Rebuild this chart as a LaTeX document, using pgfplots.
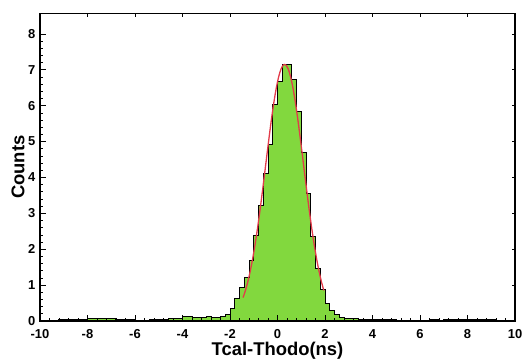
\documentclass[border=0pt]{standalone}
\usepackage{fontspec}
\setmainfont{Liberation Sans}
\usepackage{pgfplots}
\pgfplotsset{compat=1.18}
\usepackage{pgfplotstable}
\definecolor{hgreen}{RGB}{130,216,62}
\definecolor{fitred}{RGB}{226,60,74}

% histogram, 0.2 ns bins, x = left edge of bin
\pgfplotstableread{
x y
-10.0 0.00
-9.8 0.02
-9.6 0.02
-9.4 0.02
-9.2 0.03
-9.0 0.03
-8.8 0.03
-8.6 0.04
-8.4 0.04
-8.2 0.05
-8.0 0.07
-7.8 0.07
-7.6 0.08
-7.4 0.08
-7.2 0.07
-7.0 0.06
-6.8 0.05
-6.6 0.04
-6.4 0.03
-6.2 0.03
-6.0 0.02
-5.8 0.02
-5.6 0.02
-5.4 0.03
-5.2 0.04
-5.0 0.05
-4.8 0.05
-4.6 0.06
-4.4 0.07
-4.2 0.08
-4.0 0.12
-3.8 0.12
-3.6 0.11
-3.4 0.10
-3.2 0.11
-3.0 0.12
-2.8 0.11
-2.6 0.11
-2.4 0.12
-2.2 0.17
-2.0 0.36
-1.8 0.63
-1.6 0.94
-1.4 1.22
-1.2 1.68
-1.0 2.39
-0.8 3.22
-0.6 4.11
-0.4 4.91
-0.2 6.03
0.0 6.68
0.2 7.14
0.4 7.16
0.6 6.74
0.8 5.83
1.0 4.69
1.2 3.56
1.4 2.36
1.6 1.45
1.8 0.88
2.0 0.50
2.2 0.28
2.4 0.17
2.6 0.10
2.8 0.07
3.0 0.06
3.2 0.06
3.4 0.05
3.6 0.05
3.8 0.05
4.0 0.04
4.2 0.04
4.4 0.04
4.6 0.03
4.8 0.03
5.0 0.02
5.2 0.02
5.4 0.02
5.6 0.01
5.8 0.01
6.0 0.02
6.2 0.02
6.4 0.03
6.6 0.03
6.8 0.02
7.0 0.03
7.2 0.04
7.4 0.03
7.6 0.04
7.8 0.05
8.0 0.04
8.2 0.05
8.4 0.04
8.6 0.05
8.8 0.04
9.0 0.03
9.2 0.02
9.4 0.02
9.6 0.02
9.8 0.01
10.0 0.01
}\histdata

% gaussian fit
\pgfplotstableread{
x y
-1.45 0.653
-1.35 0.852
-1.25 1.094
-1.15 1.383
-1.05 1.722
-0.95 2.109
-0.85 2.545
-0.75 3.022
-0.65 3.533
-0.55 4.065
-0.45 4.607
-0.35 5.140
-0.25 5.646
-0.15 6.104
-0.05 6.497
0.05 6.809
0.15 7.026
0.25 7.136
0.30 7.150
0.35 7.136
0.45 7.026
0.55 6.809
0.65 6.497
0.75 6.104
0.85 5.646
0.95 5.140
1.05 4.607
1.15 4.065
1.25 3.533
1.35 3.022
1.45 2.545
1.55 2.109
1.65 1.722
1.75 1.383
1.85 1.094
1.95 0.852
}\fitdata

\begin{document}
\begin{tikzpicture}
\pgfplotsset{
  hframe/.style={
    width=475bp, height=307.5bp, scale only axis,
    xmin=-10, xmax=10, ymin=0, ymax=8.57,
    axis line style={line width=1.2bp},
    tick align=inside,
    tick style={black, line width=0.7bp},
  }
}
\begin{axis}[hframe,
    axis on top,
    xtick={-10,-8,...,10}, ytick={0,1,...,8},
    xtick pos=bottom, ytick pos=left,
    minor x tick num=4, minor y tick num=4,
    major tick length=6bp, minor tick length=3bp,
    /pgf/number format/assume math mode=true,
    xticklabel style={font=\fontsize{13}{15}\selectfont\bfseries, inner sep=0pt, anchor=north, yshift=-8bp},
    yticklabel style={font=\fontsize{13}{15}\selectfont\bfseries, inner sep=0pt, anchor=east, xshift=-4.5bp},
    xlabel={Tcal-Thodo(ns)}, ylabel={Counts},
    xlabel style={font=\fontsize{18.5}{20}\selectfont\bfseries, at={(axis description cs:0.5,0)}, anchor=base, yshift=-35bp},
    ylabel style={font=\fontsize{18.5}{20}\selectfont\bfseries, at={(axis description cs:0,0.5)}, anchor=center, yshift=22bp},
  ]
  \addplot[const plot mark left, fill=hgreen, draw=black, line width=1bp]
    table[x=x, y=y] {\histdata} \closedcycle;
  \addplot[fitred, line width=1.3bp, smooth, mark=none]
    table[x=x, y=y] {\fitdata};
\end{axis}
\begin{axis}[hframe,
    xtick={-10,-8,...,10}, ytick={0,1,...,8},
    xtick pos=top, ytick pos=right,
    xticklabels={}, yticklabels={},
    major tick length=3.5bp,
  ]
\end{axis}
\path (current axis.south west) ++(-40bp,-38bp) (current axis.north east) ++(8bp,13.5bp);
\end{tikzpicture}
\end{document}
